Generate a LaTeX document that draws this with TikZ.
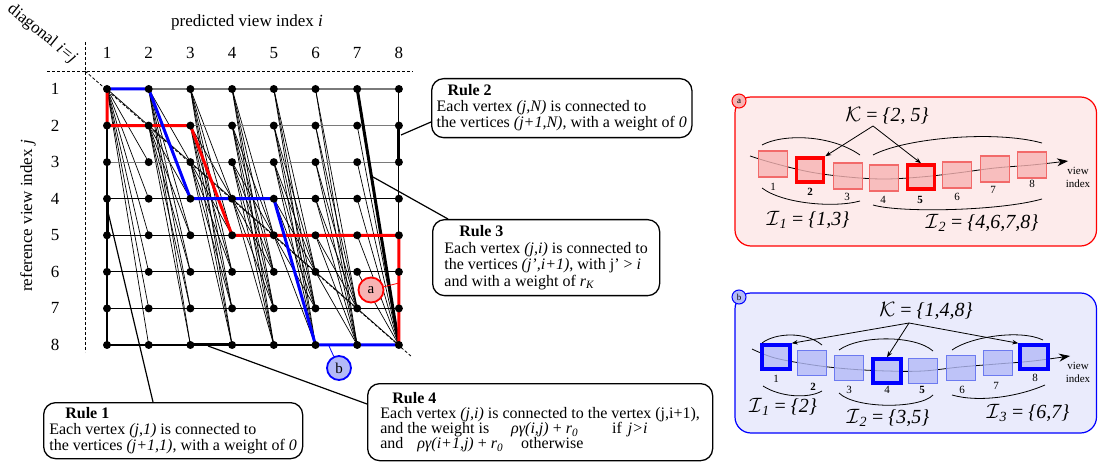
\documentclass[tikz,border=0pt]{standalone}
\usepackage{fontspec}
\setmainfont{Liberation Serif}
\usetikzlibrary{arrows.meta}
\definecolor{pbg}{HTML}{FDEBEB}
\definecolor{psq}{HTML}{F7B3B3}
\definecolor{pbd}{HTML}{F26A6A}
\definecolor{bbg}{HTML}{EAEBFC}
\definecolor{bsq}{HTML}{B3BAF7}
\definecolor{bbd}{HTML}{6C7AF0}
\definecolor{gridgray}{HTML}{7A7A7A}
\newcommand\myfs[1]{\fontsize{#1}{#1}\selectfont}
\begin{document}
\begin{tikzpicture}[x=1pt,y=-1pt,
  dot/.style={circle,fill=black,inner sep=0pt,minimum size=8pt},
  fanedge/.style={line width=0.7pt},
  gridline/.style={line width=1.1pt},
  keyseg/.style={line width=3pt},
  pathline/.style={line width=3pt,line join=round},
  callout/.style={line width=1.2pt},
  dashline/.style={line width=0.8pt,dash pattern=on 3pt off 2pt},
  rulebox/.style={draw,line width=1.3pt,rounded corners=12pt,fill=white,align=left,anchor=north west,inner xsep=5pt,inner ysep=2pt,font=\myfs{16}},
  lbl/.style={font=\myfs{17}},
  sqa/.style={draw=pbd,fill=psq,fill opacity=0.8,line width=1.2pt,minimum width=29pt,minimum height=26pt,inner sep=0pt},
  keya/.style={sqa,draw=red,draw opacity=1,line width=3.5pt,minimum width=27pt,minimum height=24pt},
  sqb/.style={draw=bbd,fill=bsq,fill opacity=0.8,line width=1.2pt,minimum width=29pt,minimum height=25pt,inner sep=0pt},
  keyb/.style={sqb,draw=blue,draw opacity=1,line width=3.5pt,minimum width=28pt,minimum height=24pt},
  sqlbl/.style={font=\myfs{11}},
  bigmath/.style={font=\myfs{20}},
  karrow/.style={-{Stealth[length=6pt,width=4.5pt]},line width=0.8pt},
  wave/.style={-{Stealth[length=11pt,width=8pt]},line width=0.8pt},
  arcline/.style={line width=0.8pt},
  viewlbl/.style={font=\fontsize{11}{13}\selectfont,align=center}
]
\useasboundingbox (0,0) rectangle (1098,462);

% vertex coordinates
\foreach \j in {1,...,8}{\foreach \i in {1,...,8}{
  \coordinate (v-\j-\i) at ({65.3+41.7*\i},{52.43+36.57*\j});}}

% rule 3 fan edges
\foreach \i in {1,...,7}{
  \pgfmathtruncatemacro\ni{\i+1}
  \foreach \j in {1,...,\i}{
    \foreach \k in {\ni,...,8}{
      \draw[fanedge] (v-\j-\i) -- (v-\k-\ni);
    }}}

% grid lines
\foreach \j in {1,2,3}{\draw[gridline,gridgray] (v-\j-1) -- (v-\j-8);}
\foreach \j in {4,...,8}{\draw[gridline] (v-\j-1) -- (v-\j-8);}
\draw[gridline] (v-1-1) -- (v-8-1);
\draw[gridline] (v-1-8) -- (v-8-8);

% dashed axes and diagonal
\draw[dashline] (47,71) -- (413,71);
\draw[dashline] (85,42) -- (85,352);
\draw[dashline] (85,71) -- (412,357);

% highlighted rule edges
\draw[keyseg] (v-4-1) -- (v-5-1);
\draw[keyseg] (v-2-8) -- (v-3-8);
\draw[keyseg] (v-1-7) -- (v-8-8);
\draw[keyseg] (v-8-3) -- (v-8-4);

% paths
\draw[pathline,red] (v-1-1) -- (v-2-1) -- (v-2-2) -- (v-2-3) -- (v-5-4) -- (v-5-5) -- (v-5-6) -- (v-5-7) -- (v-5-8) -- (v-8-8);
\draw[pathline,blue] (v-1-1) -- (v-1-2) -- (v-4-3) -- (v-4-4) -- (v-4-5) -- (v-8-6) -- (v-8-7) -- (v-8-8);

% dots
\foreach \j in {1,...,8}{\foreach \i in {1,...,8}{
  \node[dot] (d-\j-\i) at (v-\j-\i) {};}}

% axis labels
\foreach \i in {1,...,8}{\node[lbl] (col\i) at ({65.3+41.7*\i},53) {\i};}
\foreach \j in {1,...,8}{\node[lbl] (row\j) at (55,{52.43+36.57*\j}) {\j};}
\node[lbl] (xtitle) at (247,22) {predicted view index \textit{i}};
\node[lbl,rotate=90] (ytitle) at (28,216) {reference view index \textit{j}};
\node[lbl,rotate=-39] (diag) at (42,34) {diagonal \textit{i=j}};

% rule boxes
\node[rulebox,minimum width=259pt,minimum height=56pt] (rule1) at (43,402)
  {\hspace*{16pt}\textbf{Rule 1}\\Each vertex \textit{(j,1)} is connected to\\the vertices \textit{(j+1,1)}, with a weight of \textit{0}};
\node[rulebox,minimum width=259pt,minimum height=59pt] (rule2) at (431,78)
  {\hspace*{11pt}\textbf{Rule 2}\\Each vertex \textit{(j,N)} is connected to\\the vertices \textit{(j+1,N)}, with a weight of \textit{0}};
\node[rulebox,minimum width=227pt,minimum height=76pt,font=\fontsize{16}{16.5}\selectfont] (rule3) at (432,219)
  {\hspace*{15pt}\textbf{Rule 3}\\Each vertex \textit{(j,i)} is connected to\\the vertices \textit{(j',i+1)}, with j' {\textgreater} \textit{i}\\and with a weight of \textit{r}\textsubscript{\textit{K}}};
\node[rulebox,minimum width=345pt,minimum height=77pt,font=\fontsize{16}{15}\selectfont] (rule4) at (367,383)
  {\hspace*{12pt}\textbf{Rule 4}\\Each vertex \textit{(j,i)} is connected to the vertex (j,i+1),\\and the weight is\hspace{22pt}\textit{ργ(i,j)} + \textit{r}\textsubscript{\textit{0}}\hspace{34pt}if\hspace{6pt}\textit{j{\textgreater}i}\\and\hspace{14pt}\textit{ργ(i+1,j)} + \textit{r}\textsubscript{\textit{0}}\hspace{18pt}otherwise};

% callout lines
\coordinate (c1a) at (108,212); \coordinate (c1b) at (153,402);
\coordinate (c2a) at (401,135); \coordinate (c2b) at (431,122);
\coordinate (c3a) at (373,177); \coordinate (c3b) at (448,219);
\coordinate (c4a) at (208,346); \coordinate (c4b) at (367,404);
\draw[callout] (c1a) -- (c1b);
\draw[callout] (c2a) -- (c2b);
\draw[callout] (c3a) -- (c3b);
\draw[callout] (c4a) -- (c4b);

% path markers a and b
\node[circle,draw=red,fill=psq,line width=1.8pt,minimum size=25pt,inner sep=0pt,font=\myfs{15}] (ca) at (371,290) {a};
\coordinate (ta) at (399,283);
\draw[red,line width=0.8pt] (ca) -- (ta);
\node[circle,draw=blue,fill=bsq,line width=1.8pt,minimum size=24pt,inner sep=0pt,font=\myfs{15}] (cb) at (339,368) {b};
\coordinate (tb) at (329,346);
\draw[blue,line width=0.8pt] (cb) -- (tb);

% ================= panel a =================
\draw[draw=red,fill=pbg,line width=1.2pt,rounded corners=16pt] (735,97) rectangle (1096.5,246);
\node[circle,draw=red,fill=psq,line width=1pt,minimum size=14pt,inner sep=0pt,font=\myfs{9}] (pa) at (739,101) {a};
\draw[wave] plot[smooth,tension=0.6] coordinates {(750,156) (773,163) (810,172) (848,177) (884,179) (921,177) (957,173) (995,168) (1032,165) (1068,161)};
\node[sqa] (sa1) at (773,164) {};
\node[keya] (sa2) at (810,170) {};
\node[sqa] (sa3) at (848,176) {};
\node[sqa] (sa4) at (884,178) {};
\node[keya] (sa5) at (921,177) {};
\node[sqa] (sa6) at (957,175) {};
\node[sqa] (sa7) at (995,169) {};
\node[sqa] (sa8) at (1032,165) {};
\node[sqlbl] (la1) at (773,187) {1};
\node[sqlbl] (la2) at (810,192) {\textbf{2}};
\node[sqlbl] (la3) at (847,197) {3};
\node[sqlbl] (la4) at (883,200) {4};
\node[sqlbl] (la5) at (920,200) {\textbf{5}};
\node[sqlbl] (la6) at (957,197) {6};
\node[sqlbl] (la7) at (993,190) {7};
\node[sqlbl] (la8) at (1032,184) {8};
\node[viewlbl] (via) at (1078,177) {view\\index};
\draw[arcline] (762,145) .. controls (782,134) and (830,134) .. (860,155);
\draw[arcline] (873,155) .. controls (905,138) and (995,130) .. (1042,143);
\draw[arcline] (762,188) .. controls (783,204) and (835,208) .. (860,201);
\draw[arcline] (873,205) .. controls (900,213) and (1000,211) .. (1042,199);
\node[bigmath] (Ka) at (887,116) {$\mathcal{K}$ = \textit{\{2, 5\}}};
\coordinate (Kas) at (873,126);
\draw[karrow] (Kas) -- (sa2.north east);
\draw[karrow] (Kas) -- (sa5.north);
\node[bigmath] (Ia1) at (808,220) {$\mathcal{I}$\textsubscript{\textit{1}} = \textit{\{1,3\}}};
\node[bigmath] (Ia2) at (982,223) {$\mathcal{I}$\textsubscript{\textit{2}} = \textit{\{4,6,7,8\}}};

% ================= panel b =================
\draw[draw=blue,fill=bbg,line width=1.2pt,rounded corners=16pt] (735,293) rectangle (1096.5,433);
\node[circle,draw=blue,fill=bsq,line width=1pt,minimum size=14pt,inner sep=0pt,font=\myfs{9}] (pb) at (739,297) {b};
\draw[wave] plot[smooth,tension=0.6] coordinates {(752,349) (775,358) (813,365) (849,369) (887,371) (923,371) (960,367) (997,364) (1033,361) (1070,356)};
\node[keyb] (sb1) at (776,357) {};
\node[sqb] (sb2) at (812,363) {};
\node[sqb] (sb3) at (849,368) {};
\node[keyb] (sb4) at (887,371) {};
\node[sqb] (sb5) at (923,371) {};
\node[sqb] (sb6) at (961,368) {};
\node[sqb] (sb7) at (998,363) {};
\node[keyb] (sb8) at (1034,357) {};
\node[sqlbl] (lb1) at (776,379) {1};
\node[sqlbl] (lb2) at (813,387) {\textbf{2}};
\node[sqlbl] (lb3) at (849,390) {3};
\node[sqlbl] (lb4) at (887,390) {4};
\node[sqlbl] (lb5) at (922,390) {\textbf{5}};
\node[sqlbl] (lb6) at (962,390) {6};
\node[sqlbl] (lb7) at (996,386) {7};
\node[sqlbl] (lb8) at (1035,378) {8};
\node[viewlbl] (vib) at (1078,372) {view\\index};
\draw[arcline] (762,343) .. controls (775,333) and (805,331) .. (822,345);
\draw[arcline] (839,350) .. controls (860,335) and (915,335) .. (933,351);
\draw[arcline] (952,350) .. controls (970,337) and (1020,329) .. (1043,340);
\draw[arcline] (763,386) .. controls (780,397) and (808,399) .. (822,391);
\draw[arcline] (839,393) .. controls (855,409) and (920,409) .. (933,395);
\draw[arcline] (952,395) .. controls (980,403) and (1020,396) .. (1045,385);
\node[bigmath] (Kb) at (926,311) {$\mathcal{K}$ = \textit{\{1,4,8\}}};
\coordinate (Kbs) at (909,323);
\draw[karrow] (Kbs) -- (sb1.north east);
\draw[karrow] (Kbs) -- (sb4.north);
\draw[karrow] (Kbs) -- (sb8.north west);
\node[bigmath] (Ib1) at (783,407) {$\mathcal{I}$\textsubscript{\textit{1}} = \textit{\{2\}}};
\node[bigmath] (Ib2) at (888,418) {$\mathcal{I}$\textsubscript{\textit{2}} = \textit{\{3,5\}}};
\node[bigmath] (Ib3) at (1028,413) {$\mathcal{I}$\textsubscript{\textit{3}} = \textit{\{6,7\}}};
\end{tikzpicture}
\end{document}
